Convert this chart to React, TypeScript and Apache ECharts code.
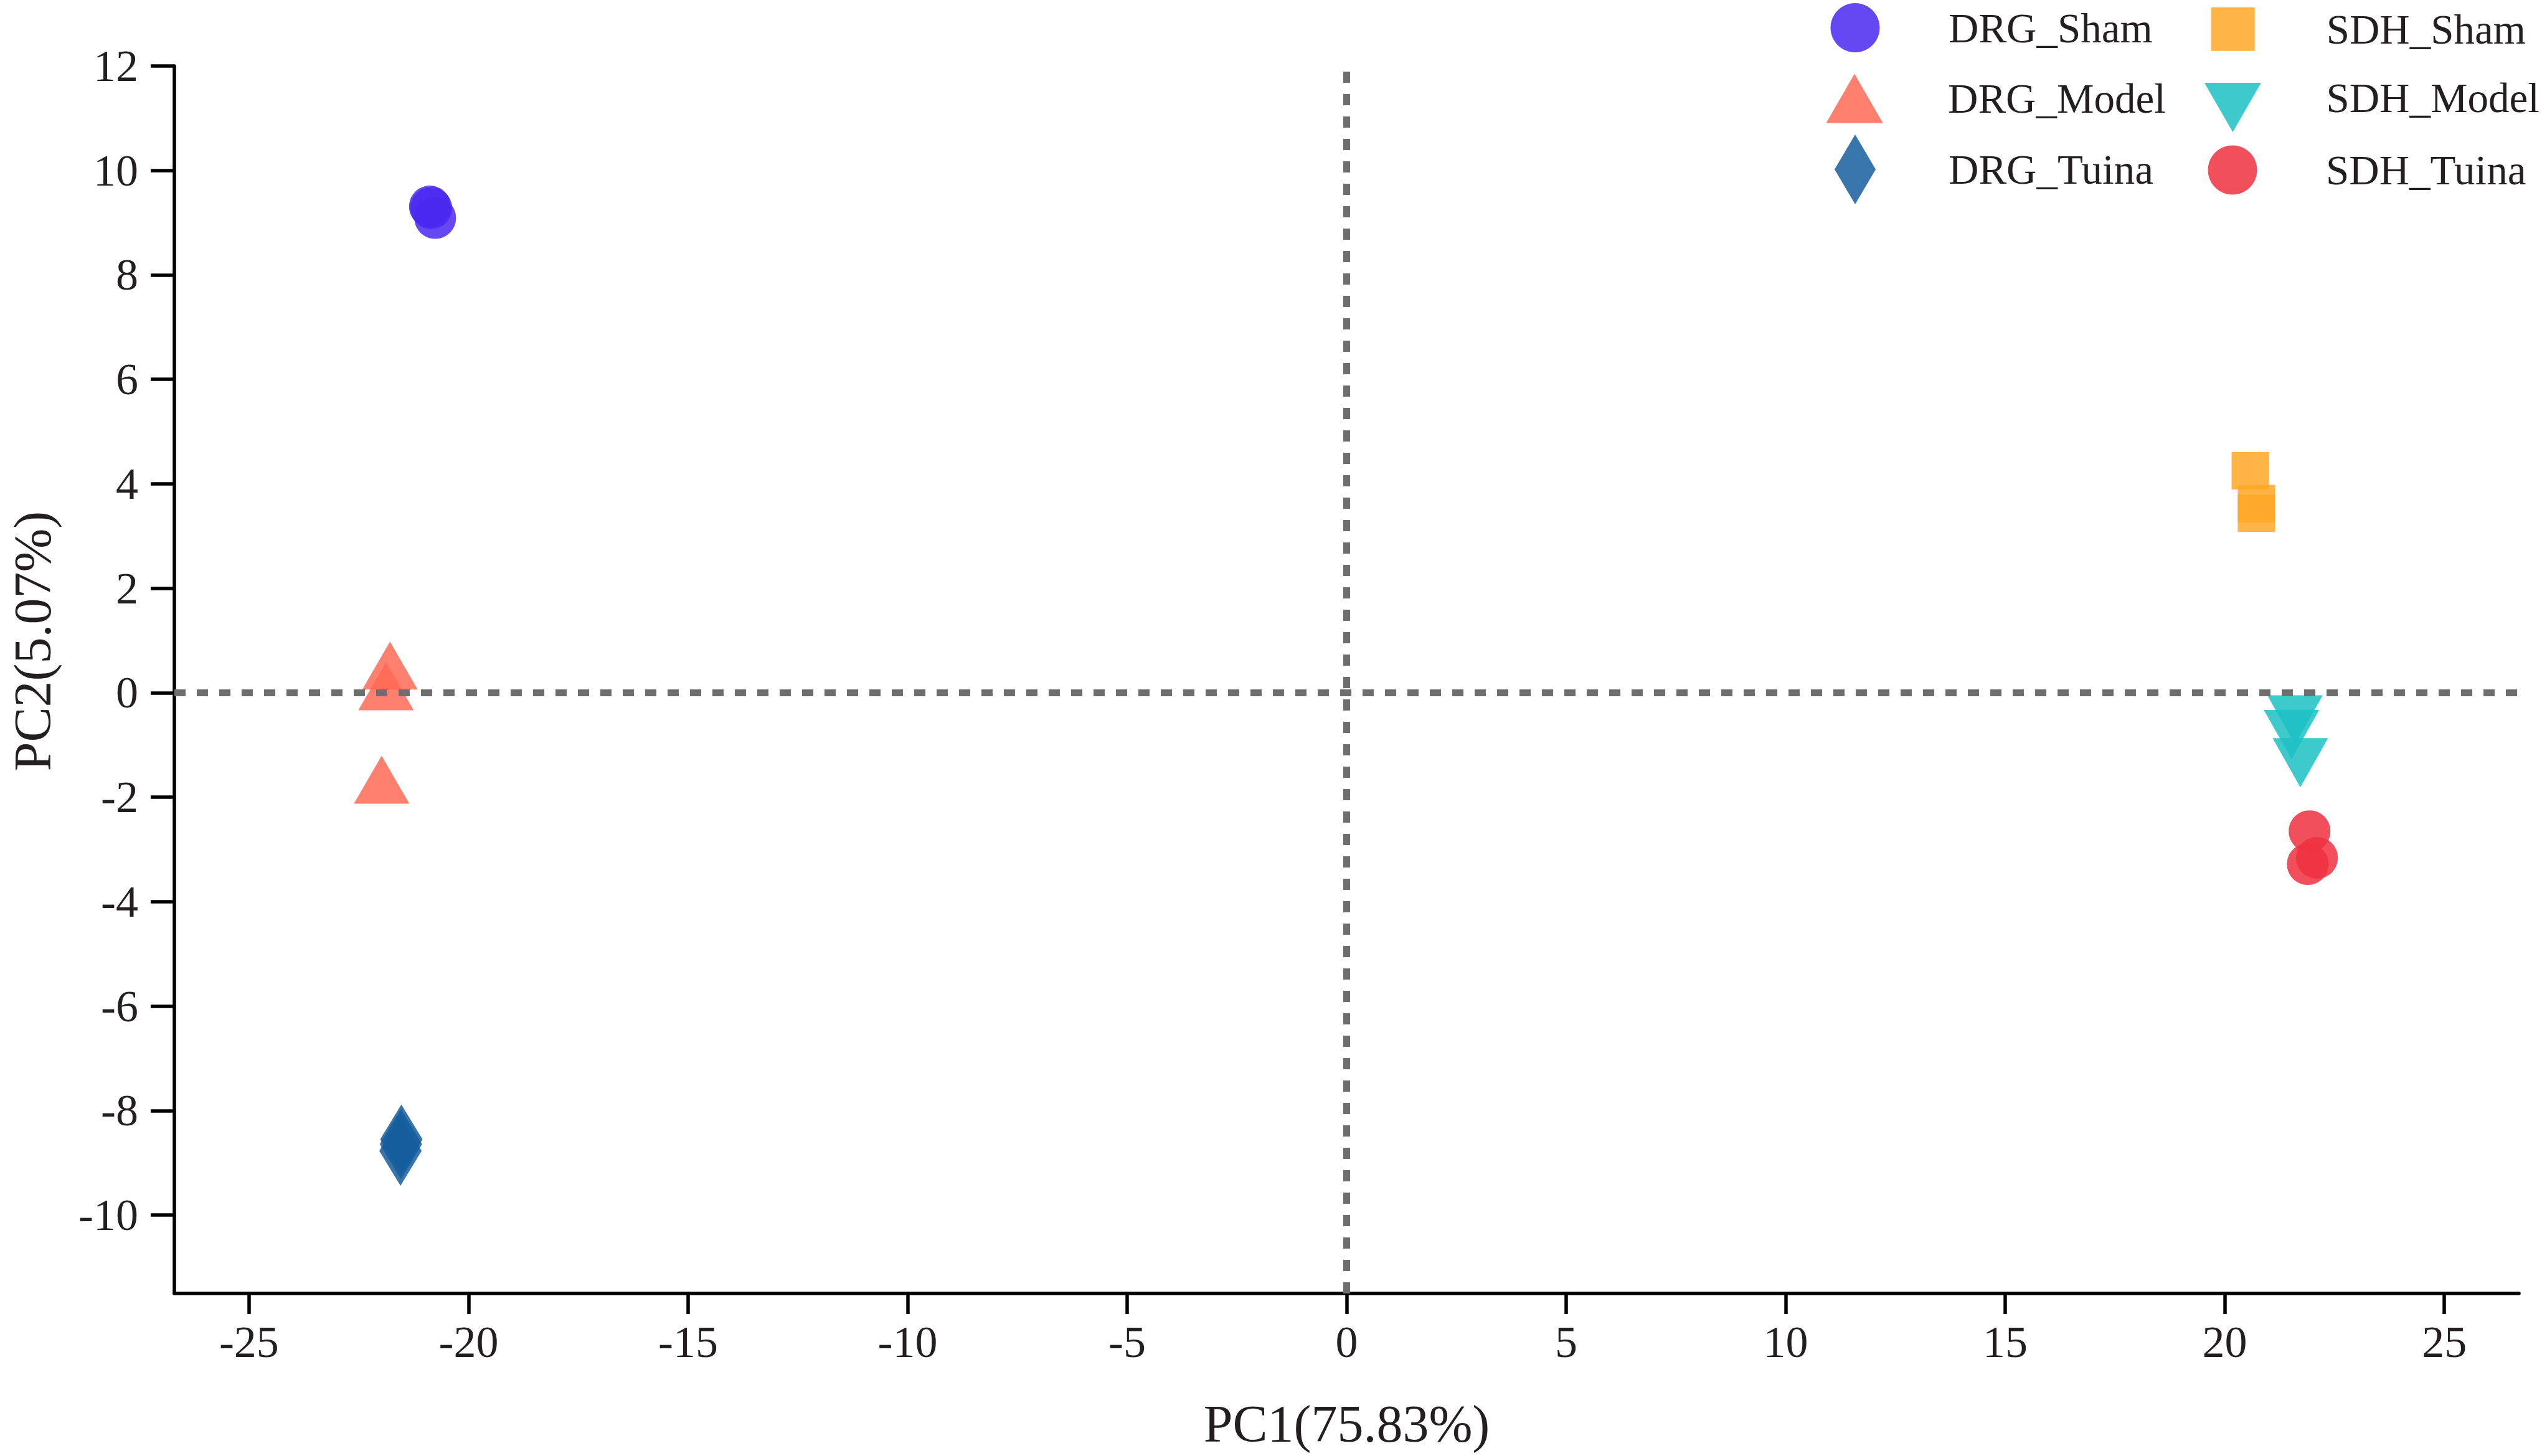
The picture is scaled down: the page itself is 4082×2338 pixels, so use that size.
import React, { useEffect, useRef } from "react";
import * as echarts from "echarts";

const xTicks = [-25, -20, -15, -10, -5, 0, 5, 10, 15, 20, 25];
const yTicks = [-10, -8, -6, -4, -2, 0, 2, 4, 6, 8, 10, 12];

const groupNames = ["DRG_Sham", "DRG_Model", "DRG_Tuina", "SDH_Sham", "SDH_Model", "SDH_Tuina"];

const drgSham = [[-20.88, 9.31], [-20.85, 9.28], [-20.76, 9.09]];
const drgModel = [[-21.79, 0.52], [-21.88, 0.125], [-21.98, -1.665]];
const drgTuina = [[-21.53, -8.55], [-21.54, -8.64], [-21.55, -8.77]];
const sdhSham = [[20.58, 4.25], [20.72, 3.62], [20.72, 3.44]];
const sdhModel = [[21.6, -0.52], [21.52, -0.8], [21.72, -1.34]];
const sdhTuina = [[21.93, -2.65], [21.89, -3.28], [22.1, -3.16]];

const groupData = [drgSham, drgModel, drgTuina, sdhSham, sdhModel, sdhTuina];
const groupColors = ["#4A28F0", "#FF6A55", "#155D9C", "#FFA726", "#1CC0C4", "#EE3040"];

const FONT = "'Liberation Serif', 'Times New Roman', serif";
const TEXT = "#231F20";

const TRI_UP = "path://M45.5,0L91,79L0,79Z";
const TRI_DOWN = "path://M0,0L91,0L45.5,79Z";
const TRI_DOWN_LEG = "path://M45.5,-31M0,0L91,0L45.5,79Z";
const DIAMOND = "path://M33,0L66,56L33,112L0,56Z";
const SQUARE = "path://M0,0L70,0L70,70L0,70Z";

const symbols = ["circle", TRI_UP, "diamond", "rect", TRI_DOWN, "circle"];
const sizes: any[] = [67, [89, 77], [68, 112], 60, [89, 79], 67];

// legend layout: [left (symbol left edge), top, itemHeight, icon]
const legendSpecs: any[] = [
  [2939.5, 5, 79, "circle"],
  [2932.5, 118.5, 79, TRI_UP],
  [2946, 216, 112, DIAMOND],
  [3550.7, 11.7, 70, SQUARE],
  [3539.9, 102, 110, TRI_DOWN_LEG],
  [3545.5, 233.5, 79, "circle"],
];

export default function App() {
  const ref = useRef<HTMLDivElement>(null);
  useEffect(() => {
    if (!ref.current) return;
    const chart = echarts.init(ref.current, null, { renderer: "svg" });
    const series = groupNames.map((name, i) => ({
      name,
      type: "scatter",
      data: groupData[i],
      symbol: symbols[i],
      symbolSize: sizes[i],
      itemStyle: { color: groupColors[i], opacity: 0.85 },
      z: 2,
      markLine:
        i === 0
          ? {
              silent: true,
              symbol: ["none", "none"],
              label: { show: false },
              lineStyle: { color: "#6E6E6E", width: 11, type: [18, 18], opacity: 1 },
              emphasis: { disabled: true },
              data: [{ xAxis: 0 }, { yAxis: 0 }],
              z: 5,
            }
          : undefined,
    }));
    const legends = groupNames.map((name, i) => ({
      show: true,
      orient: "vertical",
      left: legendSpecs[i][0],
      top: legendSpecs[i][1],
      padding: 0,
      itemGap: 0,
      itemWidth: 290,
      itemHeight: legendSpecs[i][2],
      symbolKeepAspect: true,
      selectedMode: false,
      itemStyle: { opacity: 0.85 },
      textStyle: { fontFamily: FONT, fontSize: 67, color: TEXT, lineHeight: 60 },
      data: [{ name, icon: legendSpecs[i][3] }],
    }));
    chart.setOption({
      animation: false,
      backgroundColor: "#ffffff",
      legend: legends,
      grid: { left: 280, right: 37, top: 106, bottom: 261, containLabel: false, outerBoundsMode: "none" },
      xAxis: {
        type: "value",
        min: -26.7,
        max: 26.7,
        name: "PC1(75.83%)",
        nameLocation: "middle",
        nameGap: 167,
        nameTextStyle: { fontFamily: FONT, fontSize: 84, color: TEXT },
        axisLine: { show: true, onZero: false, lineStyle: { color: "#000", width: 5.5 } },
        axisTick: { show: true, length: 33, customValues: xTicks, lineStyle: { color: "#000", width: 5.5 } },
        axisLabel: { customValues: xTicks, fontFamily: FONT, fontSize: 72, color: TEXT, margin: 42 },
        splitLine: { show: false },
      },
      yAxis: {
        type: "value",
        min: -11.5,
        max: 12,
        name: "PC2(5.07%)",
        nameLocation: "middle",
        nameGap: 186,
        nameTextStyle: { fontFamily: FONT, fontSize: 84, color: TEXT, padding: [0, 0, 0, 124], lineHeight: 84 },
        axisLine: { show: true, onZero: false, lineStyle: { color: "#000", width: 5.5 } },
        axisTick: { show: true, length: 38, customValues: yTicks, lineStyle: { color: "#000", width: 5.5 } },
        axisLabel: { customValues: yTicks, fontFamily: FONT, fontSize: 72, color: TEXT, margin: 58 },
        splitLine: { show: false },
      },
      series,
    });
    return () => chart.dispose();
  }, []);
  return (
    <div
      ref={ref}
      style={{ position: "fixed", left: 0, top: 0, width: 4082, height: 2338, background: "#fff" }}
    />
  );
}
